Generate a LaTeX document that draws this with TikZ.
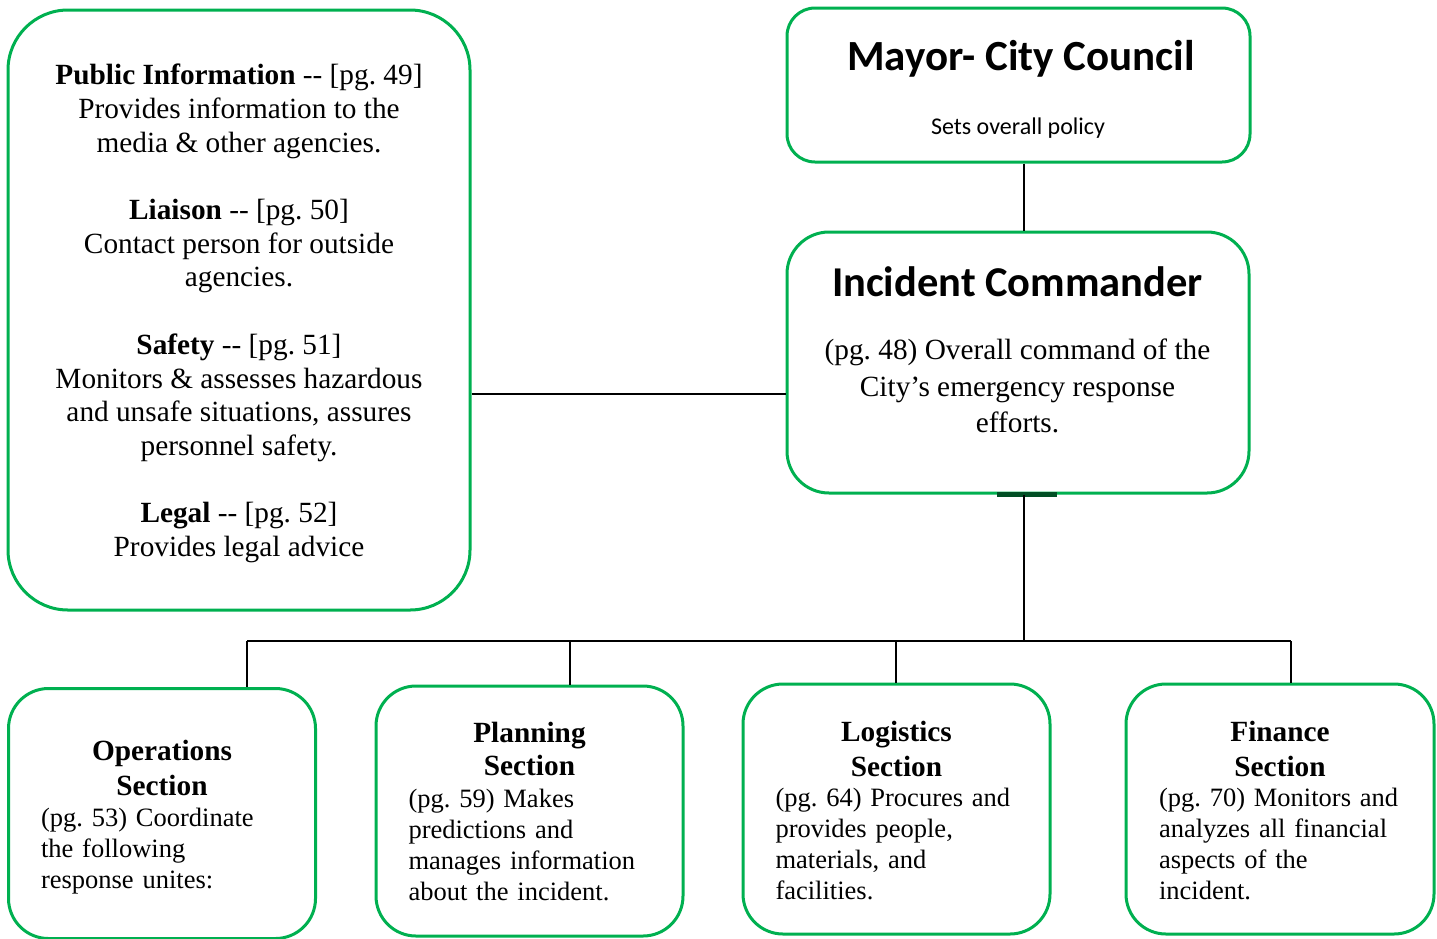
\documentclass[tikz,border=0pt]{standalone}
\usepackage{fontspec}
\setmainfont{Liberation Serif}
\newfontfamily\calibri{Carlito}
\definecolor{boxgreen}{RGB}{0,176,80}
\frenchspacing
\begin{document}
\frenchspacing
\begin{tikzpicture}[x=1pt,y=-1pt,
  box/.style={draw=boxgreen,line width=3pt,rounded corners=#1,inner sep=0pt},
  box/.default=40pt,
  link/.style={draw=black,line width=2pt},
  bodyfont/.style={font=\frenchspacing\fontsize{29.3}{33.7}\selectfont},
  smallfont/.style={font=\frenchspacing\fontsize{26.5}{31}\selectfont},
  section/.style={box=40pt,minimum width=307pt,minimum height=250pt},
  sectext/.style={text width=242pt,align=left,inner sep=0pt,smallfont}
]
\useasboundingbox (0,0) rectangle (1437,938);

% staff box
\node[box=60pt,minimum width=462pt,minimum height=600pt] (staff) at (239,310) {};
\node[align=center,bodyfont,inner sep=0pt] (stafftext) at (239,313.5) {%
\textbf{Public Information} -{}- [pg. 49]\\
Provides information to the\\
media \& other agencies.\\[33.7pt]
\textbf{Liaison} -{}- [pg. 50]\\
Contact person for outside\\
agencies.\\[33.7pt]
\textbf{Safety} -{}- [pg. 51]\\
Monitors \& assesses hazardous\\
and unsafe situations, assures\\
personnel safety.\\[33.7pt]
\textbf{Legal} -{}- [pg. 52]\\
Provides legal advice};

% mayor box
\node[box=28pt,minimum width=463pt,minimum height=154pt] (mayor) at (1018.5,85) {};
\node[font=\calibri\bfseries\fontsize{43}{50}\selectfont,anchor=base,inner sep=0pt] (mayortitle) at (1021,70) {Mayor- City Council};
\node[font=\calibri\fontsize{24}{29}\selectfont,anchor=base,inner sep=0pt] (policy) at (1018,134) {Sets overall policy};

% incident commander
\node[box=42pt,minimum width=462pt,minimum height=261pt] (ic) at (1018,362.5) {};
\node[font=\calibri\bfseries\fontsize{42.5}{50}\selectfont,anchor=base,inner sep=0pt] (ictitle) at (1017.5,296) {Incident Commander};
\node[align=center,font=\frenchspacing\fontsize{29.3}{36.5}\selectfont,inner sep=0pt] (icbody) at (1017.5,386) {(pg. 48) Overall command of the\\City’s emergency response\\efforts.};
\draw[line width=5pt,boxgreen!45!black] (997,494) -- (1057,494);

% sections
\node[section] (ops) at (162,813.5) {};
\node[sectext] (opstext) at (162,817.5) {%
\makebox[242pt]{\fontsize{29.3}{34}\selectfont\bfseries Operations}\\[4pt]
\makebox[242pt]{\fontsize{29.3}{34}\selectfont\bfseries Section}\\[0pt]
(pg. 53) Coordinate\\
the following\\
response unites:};

\node[section] (plan) at (529.5,811) {};
\node[sectext] (plantext) at (529.5,812) {%
\makebox[242pt]{\fontsize{29.3}{34}\selectfont\bfseries Planning}\\[2pt]
\makebox[242pt]{\fontsize{29.3}{34}\selectfont\bfseries Section}\\[1pt]
(pg. 59) Makes\\
predictions and\\
manages information\\
about the incident.};

\node[section] (logi) at (896.5,809) {};
\node[sectext] (logitext) at (896.5,811) {%
\makebox[242pt]{\fontsize{29.3}{34}\selectfont\bfseries Logistics}\\[4pt]
\makebox[242pt]{\fontsize{29.3}{34}\selectfont\bfseries Section}\\[-1pt]
(pg. 64) Procures and\\
provides people,\\
materials, and\\
facilities.};

\node[section,minimum width=308pt] (fin) at (1280,809) {};
\node[sectext] (fintext) at (1280,811) {%
\makebox[242pt]{\fontsize{29.3}{34}\selectfont\bfseries Finance}\\[4pt]
\makebox[242pt]{\fontsize{29.3}{34}\selectfont\bfseries Section}\\[-1pt]
(pg. 70) Monitors and\\
analyzes all financial\\
aspects of the\\
incident.};

% connector coordinates
\coordinate (trunk) at (1024,641);
\coordinate (sj) at (470,394);
\coordinate (b1) at (247,641);
\coordinate (b2) at (570,641);
\coordinate (b3) at (896,641);
\coordinate (b4) at (1291,641);

\draw[link] (trunk |- mayor.south) -- (trunk |- ic.north);
\draw[link] (staff.east |- sj) -- (ic.west |- sj);
\draw[link] (trunk |- ic.south) -- (trunk);
\draw[link] (b1) -- (b4);
\draw[link] (b1) -- (b1 |- ops.north);
\draw[link] (b2) -- (b2 |- plan.north);
\draw[link] (b3) -- (b3 |- logi.north);
\draw[link] (b4) -- (b4 |- fin.north);
\end{tikzpicture}
\end{document}
